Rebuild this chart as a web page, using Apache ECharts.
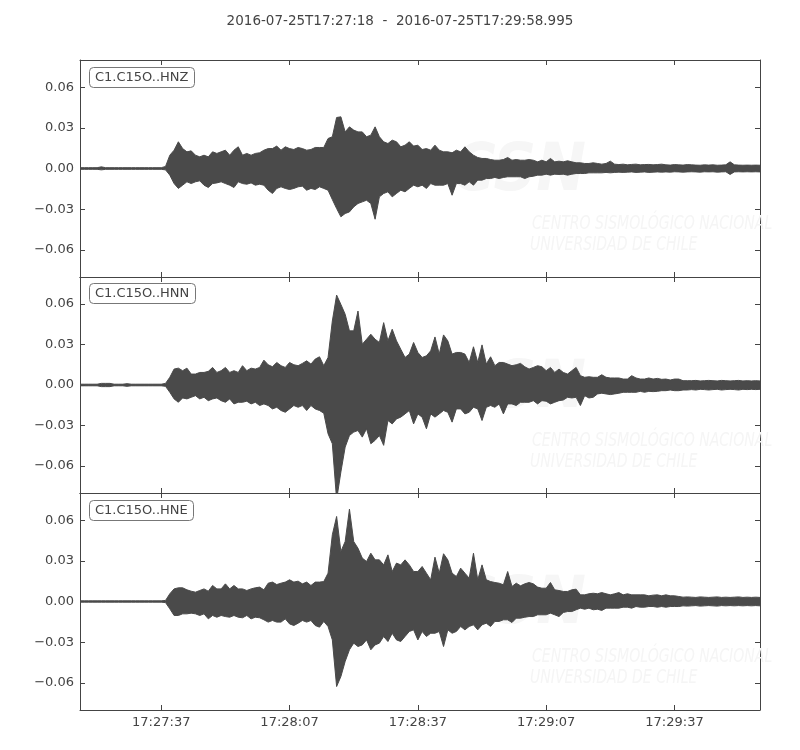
<!DOCTYPE html>
<html>
<head>
<meta charset="utf-8">
<script src="https://cdn.jsdelivr.net/npm/echarts@6/dist/echarts.min.js"></script>
<style>html,body{margin:0;padding:0;background:#fff}#c{width:800px;height:750px}</style>
</head>
<body>
<div id="c"></div>
<script>
// ---- data (envelopes read per 1-second bin, starting at 17:27:18) ----
const titleText = '2016-07-25T17:27:18  -  2016-07-25T17:29:58.995';
const channels = ['C1.C15O..HNZ', 'C1.C15O..HNN', 'C1.C15O..HNE'];
const binWidthSec = 1;
const durationSec = 158.995;
const xTickSeconds = [19, 49, 79, 109, 139];
const xTickLabels = ['17:27:37', '17:28:07', '17:28:37', '17:29:07', '17:29:37'];
const yTickValues = [-0.06, -0.03, 0, 0.03, 0.06];

const hnzMax = [
0.0006,0.0006,0.0006,0.0006,0.0006,0.0012,0.0006,0.0006,0.0006,0.0006,
0.0006,0.0006,0.0006,0.0006,0.0006,0.0006,0.0006,0.0006,0.0006,0.0006,
0.0015,0.0098,0.0135,0.0197,0.0147,0.0123,0.0130,0.0098,0.0086,0.0098,
0.0086,0.0123,0.0111,0.0123,0.0135,0.0098,0.0135,0.0160,0.0098,0.0111,
0.0098,0.0111,0.0116,0.0135,0.0147,0.0147,0.0165,0.0135,0.0160,0.0147,
0.0140,0.0155,0.0147,0.0135,0.0140,0.0155,0.0155,0.0155,0.0221,0.0234,
0.0376,0.0381,0.0270,0.0307,0.0283,0.0270,0.0270,0.0234,0.0246,0.0307,
0.0234,0.0197,0.0184,0.0209,0.0197,0.0160,0.0172,0.0197,0.0165,0.0172,
0.0140,0.0147,0.0135,0.0172,0.0135,0.0123,0.0123,0.0116,0.0135,0.0123,
0.0160,0.0123,0.0098,0.0081,0.0074,0.0074,0.0066,0.0061,0.0061,0.0066,
0.0081,0.0061,0.0066,0.0061,0.0061,0.0066,0.0061,0.0049,0.0061,0.0049,
0.0074,0.0049,0.0054,0.0049,0.0057,0.0049,0.0042,0.0042,0.0037,0.0037,
0.0042,0.0037,0.0032,0.0037,0.0054,0.0032,0.0029,0.0032,0.0027,0.0030,
0.0032,0.0027,0.0029,0.0030,0.0027,0.0029,0.0032,0.0027,0.0025,0.0029,
0.0027,0.0025,0.0029,0.0027,0.0025,0.0024,0.0027,0.0025,0.0027,0.0024,
0.0025,0.0027,0.0049,0.0027,0.0025,0.0024,0.0025,0.0024,0.0025,0.0024];
const hnzMin = [
-0.0006,-0.0006,-0.0006,-0.0006,-0.0006,-0.0010,-0.0006,-0.0006,-0.0006,-0.0006,
-0.0006,-0.0006,-0.0006,-0.0006,-0.0006,-0.0006,-0.0006,-0.0006,-0.0006,-0.0006,
-0.0010,-0.0049,-0.0111,-0.0147,-0.0123,-0.0098,-0.0111,-0.0098,-0.0091,-0.0123,
-0.0140,-0.0111,-0.0106,-0.0098,-0.0111,-0.0123,-0.0140,-0.0098,-0.0111,-0.0116,
-0.0106,-0.0123,-0.0116,-0.0123,-0.0160,-0.0184,-0.0147,-0.0135,-0.0147,-0.0155,
-0.0147,-0.0135,-0.0130,-0.0160,-0.0147,-0.0155,-0.0135,-0.0147,-0.0160,-0.0229,
-0.0295,-0.0356,-0.0332,-0.0320,-0.0283,-0.0258,-0.0246,-0.0234,-0.0258,-0.0374,
-0.0209,-0.0184,-0.0172,-0.0209,-0.0184,-0.0160,-0.0172,-0.0147,-0.0123,-0.0135,
-0.0123,-0.0147,-0.0111,-0.0123,-0.0123,-0.0123,-0.0111,-0.0197,-0.0111,-0.0111,
-0.0123,-0.0098,-0.0123,-0.0086,-0.0086,-0.0074,-0.0074,-0.0066,-0.0074,-0.0066,
-0.0061,-0.0061,-0.0061,-0.0061,-0.0074,-0.0061,-0.0057,-0.0049,-0.0049,-0.0042,
-0.0049,-0.0042,-0.0044,-0.0042,-0.0049,-0.0042,-0.0037,-0.0037,-0.0037,-0.0032,
-0.0032,-0.0032,-0.0032,-0.0029,-0.0032,-0.0029,-0.0027,-0.0029,-0.0027,-0.0025,
-0.0029,-0.0027,-0.0025,-0.0029,-0.0027,-0.0025,-0.0027,-0.0025,-0.0027,-0.0024,
-0.0025,-0.0027,-0.0025,-0.0024,-0.0025,-0.0027,-0.0024,-0.0025,-0.0024,-0.0027,
-0.0025,-0.0024,-0.0044,-0.0025,-0.0024,-0.0025,-0.0024,-0.0025,-0.0024,-0.0025];

const hnnMax = [
0.0006,0.0006,0.0006,0.0006,0.0006,0.0012,0.0012,0.0012,0.0006,0.0006,
0.0006,0.0010,0.0006,0.0006,0.0006,0.0006,0.0006,0.0006,0.0006,0.0006,
0.0012,0.0057,0.0118,0.0125,0.0106,0.0125,0.0081,0.0081,0.0093,0.0093,
0.0101,0.0130,0.0093,0.0106,0.0130,0.0093,0.0106,0.0093,0.0143,0.0106,
0.0125,0.0118,0.0130,0.0184,0.0150,0.0135,0.0167,0.0143,0.0130,0.0167,
0.0150,0.0143,0.0160,0.0179,0.0155,0.0192,0.0209,0.0143,0.0204,0.0474,
0.0666,0.0597,0.0524,0.0401,0.0401,0.0548,0.0302,0.0339,0.0376,0.0339,
0.0315,0.0462,0.0327,0.0413,0.0327,0.0265,0.0204,0.0229,0.0315,0.0241,
0.0204,0.0216,0.0253,0.0356,0.0229,0.0371,0.0327,0.0229,0.0241,0.0241,
0.0229,0.0167,0.0283,0.0167,0.0297,0.0155,0.0209,0.0143,0.0167,0.0167,
0.0155,0.0143,0.0150,0.0160,0.0135,0.0118,0.0130,0.0143,0.0135,0.0106,
0.0130,0.0093,0.0118,0.0093,0.0081,0.0106,0.0130,0.0069,0.0057,0.0061,
0.0057,0.0057,0.0076,0.0057,0.0052,0.0052,0.0052,0.0044,0.0044,0.0069,
0.0052,0.0044,0.0044,0.0052,0.0044,0.0049,0.0042,0.0044,0.0037,0.0044,
0.0044,0.0032,0.0032,0.0032,0.0034,0.0030,0.0032,0.0034,0.0032,0.0030,
0.0034,0.0032,0.0030,0.0032,0.0034,0.0030,0.0032,0.0030,0.0032,0.0030];
const hnnMin = [
-0.0006,-0.0006,-0.0006,-0.0006,-0.0006,-0.0012,-0.0012,-0.0012,-0.0006,-0.0006,
-0.0006,-0.0010,-0.0006,-0.0006,-0.0006,-0.0006,-0.0006,-0.0006,-0.0006,-0.0006,
-0.0010,-0.0054,-0.0103,-0.0128,-0.0096,-0.0103,-0.0091,-0.0079,-0.0103,-0.0091,
-0.0116,-0.0103,-0.0096,-0.0116,-0.0128,-0.0103,-0.0140,-0.0128,-0.0128,-0.0120,
-0.0140,-0.0128,-0.0152,-0.0140,-0.0152,-0.0177,-0.0165,-0.0189,-0.0202,-0.0177,
-0.0152,-0.0165,-0.0152,-0.0189,-0.0152,-0.0177,-0.0189,-0.0209,-0.0361,-0.0435,
-0.0850,-0.0644,-0.0460,-0.0374,-0.0349,-0.0337,-0.0386,-0.0324,-0.0435,-0.0410,
-0.0374,-0.0447,-0.0263,-0.0288,-0.0251,-0.0238,-0.0214,-0.0189,-0.0288,-0.0214,
-0.0238,-0.0324,-0.0214,-0.0238,-0.0214,-0.0189,-0.0202,-0.0275,-0.0177,-0.0177,
-0.0214,-0.0202,-0.0165,-0.0177,-0.0263,-0.0165,-0.0152,-0.0165,-0.0140,-0.0214,
-0.0140,-0.0140,-0.0152,-0.0128,-0.0128,-0.0128,-0.0116,-0.0140,-0.0116,-0.0120,
-0.0140,-0.0128,-0.0116,-0.0111,-0.0091,-0.0096,-0.0091,-0.0152,-0.0079,-0.0096,
-0.0091,-0.0066,-0.0061,-0.0066,-0.0071,-0.0066,-0.0061,-0.0054,-0.0054,-0.0054,
-0.0054,-0.0047,-0.0054,-0.0047,-0.0049,-0.0047,-0.0042,-0.0042,-0.0037,-0.0042,
-0.0042,-0.0037,-0.0037,-0.0034,-0.0037,-0.0032,-0.0034,-0.0037,-0.0034,-0.0032,
-0.0037,-0.0034,-0.0032,-0.0034,-0.0037,-0.0032,-0.0034,-0.0032,-0.0034,-0.0032];

const hneMax = [
0.0005,0.0005,0.0005,0.0005,0.0005,0.0005,0.0005,0.0005,0.0005,0.0005,
0.0005,0.0005,0.0005,0.0005,0.0005,0.0005,0.0005,0.0005,0.0005,0.0005,
0.0008,0.0057,0.0093,0.0101,0.0101,0.0086,0.0076,0.0069,0.0081,0.0093,
0.0076,0.0118,0.0093,0.0093,0.0130,0.0093,0.0118,0.0093,0.0093,0.0081,
0.0093,0.0101,0.0106,0.0086,0.0135,0.0143,0.0125,0.0135,0.0143,0.0160,
0.0143,0.0150,0.0130,0.0143,0.0118,0.0143,0.0143,0.0147,0.0209,0.0492,
0.0627,0.0369,0.0442,0.0681,0.0442,0.0393,0.0320,0.0295,0.0356,0.0307,
0.0307,0.0270,0.0344,0.0221,0.0283,0.0270,0.0307,0.0270,0.0221,0.0221,
0.0258,0.0209,0.0160,0.0327,0.0209,0.0352,0.0307,0.0209,0.0184,0.0246,
0.0209,0.0172,0.0356,0.0160,0.0270,0.0160,0.0147,0.0140,0.0135,0.0123,
0.0221,0.0111,0.0135,0.0116,0.0130,0.0140,0.0130,0.0106,0.0098,0.0098,
0.0140,0.0086,0.0081,0.0074,0.0074,0.0086,0.0091,0.0049,0.0049,0.0057,
0.0061,0.0057,0.0066,0.0057,0.0049,0.0057,0.0066,0.0049,0.0057,0.0049,
0.0049,0.0049,0.0049,0.0042,0.0047,0.0049,0.0042,0.0049,0.0042,0.0042,
0.0037,0.0032,0.0034,0.0032,0.0030,0.0034,0.0032,0.0030,0.0032,0.0034,
0.0030,0.0032,0.0030,0.0032,0.0034,0.0030,0.0032,0.0030,0.0032,0.0030];
const hneMin = [
-0.0005,-0.0005,-0.0005,-0.0005,-0.0005,-0.0005,-0.0005,-0.0005,-0.0005,-0.0005,
-0.0005,-0.0005,-0.0005,-0.0005,-0.0005,-0.0005,-0.0005,-0.0005,-0.0005,-0.0005,
-0.0008,-0.0054,-0.0103,-0.0103,-0.0091,-0.0091,-0.0086,-0.0091,-0.0103,-0.0091,
-0.0128,-0.0103,-0.0116,-0.0103,-0.0111,-0.0116,-0.0103,-0.0116,-0.0120,-0.0103,
-0.0128,-0.0116,-0.0120,-0.0135,-0.0152,-0.0140,-0.0152,-0.0152,-0.0128,-0.0165,
-0.0177,-0.0160,-0.0140,-0.0152,-0.0140,-0.0177,-0.0189,-0.0147,-0.0184,-0.0283,
-0.0627,-0.0553,-0.0442,-0.0356,-0.0307,-0.0332,-0.0320,-0.0283,-0.0356,-0.0320,
-0.0307,-0.0258,-0.0295,-0.0234,-0.0283,-0.0295,-0.0258,-0.0221,-0.0209,-0.0283,
-0.0221,-0.0258,-0.0234,-0.0234,-0.0221,-0.0332,-0.0209,-0.0234,-0.0221,-0.0184,
-0.0209,-0.0184,-0.0172,-0.0209,-0.0172,-0.0160,-0.0184,-0.0147,-0.0147,-0.0135,
-0.0135,-0.0155,-0.0123,-0.0123,-0.0116,-0.0111,-0.0111,-0.0098,-0.0098,-0.0098,
-0.0086,-0.0098,-0.0111,-0.0081,-0.0074,-0.0074,-0.0061,-0.0049,-0.0057,-0.0049,
-0.0061,-0.0057,-0.0066,-0.0049,-0.0049,-0.0049,-0.0049,-0.0042,-0.0042,-0.0049,
-0.0037,-0.0042,-0.0042,-0.0037,-0.0037,-0.0042,-0.0037,-0.0042,-0.0037,-0.0037,
-0.0037,-0.0032,-0.0034,-0.0032,-0.0030,-0.0034,-0.0032,-0.0030,-0.0032,-0.0034,
-0.0030,-0.0032,-0.0030,-0.0032,-0.0030,-0.0032,-0.0030,-0.0032,-0.0030,-0.0032];

// ---- chart ----
const envelopes = [[hnzMax, hnzMin], [hnnMax, hnnMin], [hneMax, hneMin]];
const FONT = 'DejaVu Sans';
const INK = '#444';
const WAVE = '#4a4a4a';
const gridTops = [60, 277, 493];
const gridHeights = [217, 216, 217];

const grids = [], xAxes = [], yAxes = [], series = [], titles = [], graphics = [];

titles.push({
  text: titleText, left: 'center', top: 9,
  textStyle: { fontFamily: FONT, fontSize: 13.5, fontWeight: 'normal', color: INK }
});

const fmtY = v => (v < 0 ? '\u2212' : '') + Math.abs(v).toFixed(2);
const fmtX = v => { const k = xTickSeconds.indexOf(Math.round(v)); return k >= 0 ? xTickLabels[k] : ''; };

for (let i = 0; i < 3; i++) {
  grids.push({ left: 80, width: 680, top: gridTops[i], height: gridHeights[i], show: false });
  const axLine = { show: true, onZero: false, lineStyle: { color: INK, width: 1 } };
  const mkX = (pos, showLabel) => ({
    type: 'value', gridIndex: i, position: pos, min: 0, max: durationSec,
    axisLine: axLine,
    axisTick: { show: true, inside: true, length: 5, customValues: xTickSeconds, lineStyle: { color: INK } },
    axisLabel: { show: showLabel, customValues: xTickSeconds, formatter: fmtX, color: INK,
                 fontFamily: FONT, fontSize: 13, margin: 6 },
    splitLine: { show: false }
  });
  const mkY = (pos, showLabel) => ({
    type: 'value', gridIndex: i, position: pos, min: -0.08, max: 0.08,
    axisLine: axLine,
    axisTick: { show: true, inside: true, length: 5, customValues: yTickValues, lineStyle: { color: INK } },
    axisLabel: { show: showLabel, customValues: yTickValues, formatter: fmtY, color: INK,
                 fontFamily: FONT, fontSize: 13, margin: 6 },
    splitLine: { show: false }
  });
  xAxes.push(mkX('bottom', i === 2), mkX('top', false));
  yAxes.push(mkY('left', true), mkY('right', false));

  const [mx, mn] = envelopes[i];
  // upper envelope filled down slightly past zero, lower envelope filled up slightly past zero (no seam)
  [[mx, -0.0004], [mn, 0.0004]].forEach(([arr, org]) => {
    series.push({
      type: 'line', xAxisIndex: 2 * i, yAxisIndex: 2 * i,
      data: arr.map((v, k) => [k * binWidthSec, v]),
      symbol: 'none', showSymbol: false, smooth: false, clip: true, silent: true,
      lineStyle: { color: WAVE, width: 1 },
      areaStyle: { color: WAVE, opacity: 1, origin: org },
      z: 3, animation: false
    });
  });

  titles.push({
    text: channels[i], left: 89, top: gridTops[i] + (i === 1 ? 6 : 7),
    padding: [4, 6, 4, 6], borderColor: '#777', borderWidth: 1, borderRadius: 4,
    backgroundColor: '#fff',
    textStyle: { fontFamily: FONT, fontSize: 13, fontWeight: 'normal', color: INK }
  });

  // faint watermark of the data provider
  const dy = gridTops[i] - 60;
  graphics.push(
    { type: 'text', x: 452, y: 140 + dy, z: 1, silent: true, scaleX: 0.9,
      style: { text: 'CSN', font: 'italic bold 66px "DejaVu Sans"', fill: '#f6f6f6' } },
    { type: 'text', x: 532, y: 215 + dy, z: 1, silent: true, scaleX: 0.74,
      style: { text: 'CENTRO SISMOLÓGICO NACIONAL', font: 'italic 19px "DejaVu Sans"', fill: '#f5f5f5' } },
    { type: 'text', x: 530, y: 236 + dy, z: 1, silent: true, scaleX: 0.74,
      style: { text: 'UNIVERSIDAD DE CHILE', font: 'italic 19px "DejaVu Sans"', fill: '#f5f5f5' } }
  );
}

const chart = echarts.init(document.getElementById('c'), null, { renderer: 'canvas' });
chart.setOption({
  animation: false,
  backgroundColor: '#fff',
  title: titles,
  grid: grids,
  xAxis: xAxes,
  yAxis: yAxes,
  graphic: graphics,
  series: series
});
</script>
</body>
</html>
